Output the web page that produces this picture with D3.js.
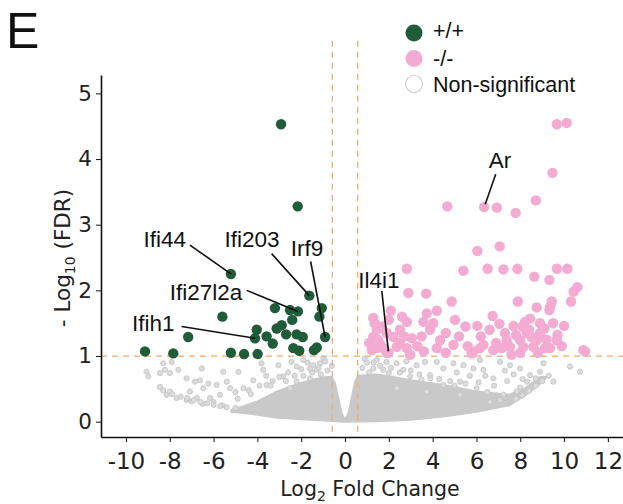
<!DOCTYPE html>
<html><head><meta charset="utf-8">
<script src="https://cdn.jsdelivr.net/npm/d3@7"></script>
<style>body{margin:0;background:#fff}svg{display:block}</style>
</head><body>
<svg id="chart" width="623" height="504"></svg>
<script>
// ---------- data ----------
const xTicks = [-10,-8,-6,-4,-2,0,2,4,6,8,10,12];
const yTicks = [0,1,2,3,4,5];
const fcCut = [-0.58, 0.58];   // log2 fold-change thresholds
const fdrCut = 1;              // -log10 FDR threshold
const legendItems = ["+/+", "-/-", "Non-significant"];

// +/+ significant genes [log2FC, -log10 FDR]
const greenPts = [[-2.92,4.53],[-2.16,3.28],[-5.21,2.25],[-1.63,1.92],[-5.60,1.60],[-3.20,1.73],[-2.51,1.70],[-2.15,1.68],
[-2.41,1.55],[-1.06,1.73],[-1.17,1.60],[-0.91,1.29],[-2.89,1.47],[-3.12,1.42],[-4.03,1.40],[-4.11,1.27],[-3.58,1.30],
[-3.30,1.19],[-2.69,1.33],[-2.21,1.33],[-1.93,1.29],[-2.36,1.12],[-2.09,1.08],[-1.42,1.09],[-1.29,1.13],[-7.16,1.29],
[-9.13,1.07],[-7.84,1.04],[-5.21,1.05],[-4.61,1.03],[-3.99,1.03]];

// -/- significant genes
const pinkPts = [[9.67,4.53],[10.12,4.55],[9.47,3.79],[4.67,3.28],[6.35,3.27],[6.93,3.26],[7.79,3.18],[8.71,3.37],
[6.04,2.60],[7.06,2.67],[2.82,2.33],[5.40,2.30],[6.51,2.33],[7.23,2.32],[7.87,2.33],[8.64,2.21],[9.33,2.16],[9.67,2.33],[10.15,2.33],
[10.61,2.05],[10.43,1.98],[10.32,1.83],[2.89,1.96],[3.70,1.95],[4.87,1.83],[7.89,1.83],[9.44,1.83],
[2.09,1.69],[1.29,1.58],[3.73,1.65],[4.19,1.69],[8.75,1.74],[9.36,1.75],[5.02,1.55],[6.74,1.61],[2.82,1.52],[9.33,1.70],
[6.04,1.46],[7.05,1.49],[7.69,1.46],[8.45,1.57],[8.22,1.52],[10.0,1.46],[9.70,1.32],[3.58,1.52],[3.88,1.40],[4.03,1.50],
[1.29,1.29],[1.45,1.40],[1.68,1.45],[1.90,1.35],[2.21,1.29],[2.51,1.40],[3.05,1.27],[4.34,1.24],[4.95,1.17],
[1.22,1.09],[1.75,1.12],[2.36,1.14],[2.82,1.12],[2.97,1.02],[4.19,1.12],[5.86,1.07],[6.32,1.17],[6.77,1.09],[7.16,1.12],[7.38,1.24],[7.53,1.14],
[7.99,1.24],[8.14,1.14],[8.30,1.35],[8.52,1.29],[8.75,1.24],[8.90,1.35],[8.60,1.14],[9.13,1.12],[9.36,1.12],[9.67,1.24],[10.96,1.07],
[5.78,1.04],[6.16,1.12],[10.88,1.09],[1.45,1.12],[1.98,1.05],
[1.1,1.2],[1.5,1.25],[1.9,1.05],[2.5,1.2],[3.3,1.15],[3.5,1.3],[4.6,1.35],[5.2,1.3],[5.5,1.45],[6.2,1.3],[6.6,1.4],[7.3,1.35],
[7.8,1.32],[8.1,1.45],[8.4,1.4],[8.9,1.5],[9.1,1.42],[9.5,1.5],[9.2,1.25],[5.6,1.15],[4.6,1.05],[3.6,1.07],[1.35,1.5],[2.0,1.55],
[2.6,1.6],[8.0,1.05],[8.8,1.05],[7.6,1.02],[6.9,1.2],[9.9,1.15],[1.6,1.18],[2.7,1.3]];

// non-significant genes: outline of the dense core + individually visible genes
const greyCore = [[-5.2,0.18],[-4.6,0.24],[-4.0,0.31],[-3.1,0.46],[-2.3,0.56],[-1.6,0.63],[-0.9,0.68],[-0.6,0.68],[-0.45,0.58],
[-0.3,0.35],[-0.15,0.12],[0,0.03],[0.15,0.12],[0.3,0.35],[0.45,0.60],[0.6,0.70],[1.45,0.72],[2.2,0.68],[3.0,0.63],[4.5,0.56],
[6.0,0.46],[7.5,0.41],[8.2,0.50],[8.9,0.68],[9.2,0.68],
[9.0,0.60],[8.3,0.42],[7.5,0.25],[6.0,0.15],[4.5,0.08],[3.0,0.03],[1.5,0.005],[0,0],[-1.6,0.03],[-3.1,0.06],[-4.3,0.12],[-5.2,0.15]];
const greyPts = [[-8.30,0.89],[-7.91,0.91],[-8.22,0.79],[-9.06,0.76],[-8.45,0.74],[-7.99,0.74],[-7.61,0.79],[-8.98,0.69],
[-7.23,0.66],[-6.85,0.61],[-6.62,0.63],[-6.24,0.58],[-5.86,0.56],[-6.54,0.81],[-5.56,0.76],[-4.87,0.76],[-4.19,0.63],
[-3.73,0.79],[-3.81,0.89],[-3.04,0.86],[-2.44,0.91],[-2.21,0.84],[-2.82,0.69],[-3.58,0.56],[-4.64,0.51],[-5.25,0.51],
[-5.71,0.41],[-6.16,0.36],[-6.77,0.36],[-7.23,0.33],[-7.69,0.36],[-8.14,0.41],[-8.45,0.53],[-7.99,0.46],[-7.08,0.46],
[-6.47,0.51],[-1.90,0.94],[-1.60,0.81],[-1.29,0.79],[-0.99,0.96],[-1.14,0.89],[-1.45,0.86],[-1.60,0.66],[-2.21,0.61],
[-2.51,0.51],[-5.40,0.61],[-6.0,0.30],[-6.5,0.27],[-5.6,0.25],[-7.0,0.31],[-4.9,0.35],[-4.3,0.42],[-3.4,0.55],[-2.7,0.62],
[-1.9,0.70],[-1.1,0.72],
[-8.3,0.48],[-7.9,0.42],[-7.5,0.38],[-7.2,0.36],[-6.9,0.33],[-6.6,0.30],[-6.3,0.28],[-6.0,0.26],[-5.7,0.24],[-5.4,0.22],[-5.0,0.21],
[-0.8,0.78],[-0.6,0.85],[-1.2,0.82],[-1.5,0.75],[-2.0,0.80],[-2.6,0.75],[-3.0,0.68],[-3.3,0.62],[-3.9,0.55],[-4.4,0.48],
[-5.0,0.45],[-0.9,0.92],[-1.7,0.90],[-2.3,0.70],[-3.6,0.70],
[1.45,0.94],[1.90,0.91],[2.36,0.89],[1.29,0.81],[1.75,0.79],[2.66,0.79],[3.27,0.86],[3.65,0.91],[4.19,0.91],[4.49,0.81],
[4.95,0.89],[5.40,0.86],[5.86,0.81],[6.32,0.79],[7.08,0.91],[7.53,0.86],[7.99,0.81],[8.45,0.71],[9.06,0.89],[9.51,0.61],
[10.27,0.84],[10.73,0.76],[6.77,0.66],[5.25,0.61],[3.88,0.71],[2.97,0.69],[4.49,0.56],[6.01,0.51],[7.23,0.41],[7.84,0.46],
[8.30,0.61],[8.90,0.76],[7.08,0.33],[6.62,0.30],[5.25,0.41],[3.73,0.46],[2.36,0.51],[6.16,0.94],[1.1,0.75],[2.0,0.74],
[3.5,0.64],[5.0,0.55],[6.5,0.45],[8.0,0.52],[8.7,0.66],
[7.8,0.35],[8.1,0.40],[8.4,0.47],[8.7,0.55],[9.0,0.62],[9.3,0.70],
[0.8,0.82],[1.0,0.90],[1.3,0.90],[1.6,0.85],[2.1,0.82],[2.5,0.75],[3.0,0.78],[3.4,0.72],[3.9,0.66],[4.3,0.65],[4.8,0.62],
[5.5,0.58],[6.1,0.60],[6.8,0.55],[7.4,0.62],[7.7,0.72],[8.1,0.65],[0.9,0.96],[2.8,0.92],[5.1,0.75],[5.7,0.70],[6.4,0.70],[7.3,0.78]];

// labelled genes: point, label centre, leader start
const annotations = [
  {gene:"Ifi44",    pt:[-5.21,2.25], lab:[-8.23,2.79], from:[-7.08,2.69]},
  {gene:"Ifi203",   pt:[-1.63,1.92], lab:[-4.25,2.78], from:[-3.35,2.56]},
  {gene:"Irf9",     pt:[-0.91,1.29], lab:[-1.74,2.64], from:[-1.57,2.44]},
  {gene:"Ifi27l2a", pt:[-2.15,1.68], lab:[-6.35,1.98], from:[-4.49,2.00]},
  {gene:"Ifih1",    pt:[-4.11,1.27], lab:[-8.75,1.50], from:[-7.46,1.45]},
  {gene:"Ar",       pt:[6.40,3.31],  lab:[7.08,3.98],  from:[6.88,3.77]},
  {gene:"Il4i1",    pt:[1.98,1.07],  lab:[1.55,2.16],  from:[1.68,1.99]}
];
const refLineTop = 5.8;

// ---------- drawing ----------
const GREEN = "#1f5d3a", PINK = "#f3abd1", ORANGE = "#eeac6a";
const svg = d3.select("#chart");
const x = d3.scaleLinear().domain([-11.14, 12.69]).range([101, 623]);
const y = d3.scaleLinear().domain([-0.233, 5.28]).range([437, 75]);

// grey core
svg.append("path").datum(greyCore)
  .attr("d", d3.line().x(d=>x(d[0])).y(d=>y(d[1])).curve(d3.curveLinearClosed))
  .attr("fill", "#c9c9c9").attr("stroke", "#c9c9c9").attr("stroke-width", 2).attr("stroke-linejoin", "round");
svg.append("g").selectAll("circle").data(greyPts).join("circle")
  .attr("cx", d=>x(d[0])).attr("cy", d=>y(d[1])).attr("r", 2.6)
  .attr("fill", "#dcdcdc").attr("stroke", "#c2c2c2").attr("stroke-width", 0.8);

// threshold lines
const dash = "6,5";
svg.append("line").attr("x1", x.range()[0]).attr("x2", x.range()[1])
  .attr("y1", y(fdrCut)).attr("y2", y(fdrCut))
  .attr("stroke", ORANGE).attr("stroke-width", 1.3).attr("stroke-dasharray", dash);
svg.append("g").selectAll("line").data(fcCut).join("line")
  .attr("x1", d=>x(d)).attr("x2", d=>x(d))
  .attr("y1", y(refLineTop)).attr("y2", y.range()[0])
  .attr("stroke", ORANGE).attr("stroke-width", 1.3).attr("stroke-dasharray", dash);

// significant points
svg.append("g").selectAll("circle").data(pinkPts).join("circle")
  .attr("cx", d=>x(d[0])).attr("cy", d=>y(d[1])).attr("r", 5.2).attr("fill", PINK);
svg.append("g").selectAll("circle").data(greenPts).join("circle")
  .attr("cx", d=>x(d[0])).attr("cy", d=>y(d[1])).attr("r", 5.2).attr("fill", GREEN);

// annotations
const ann = svg.append("g");
ann.selectAll("line").data(annotations).join("line")
  .attr("x1", d=>x(d.from[0])).attr("y1", d=>y(d.from[1]))
  .attr("x2", d=>x(d.pt[0])).attr("y2", d=>y(d.pt[1]))
  .attr("stroke", "#111").attr("stroke-width", 1.6);
ann.selectAll("text").data(annotations).join("text")
  .attr("x", d=>x(d.lab[0])).attr("y", d=>y(d.lab[1])).attr("dy", "0.36em")
  .attr("text-anchor", "middle")
  .style("font-family", "'Liberation Sans', Arial, sans-serif").style("font-size", "22.5px")
  .attr("fill", "#111").text(d=>d.gene);

// axes
const xAxis = svg.append("g").attr("transform", `translate(0,${y.range()[0]})`)
  .call(d3.axisBottom(x).tickValues(xTicks).tickSize(5).tickSizeOuter(0).tickPadding(11).tickFormat(d3.format("d")));
const yAxis = svg.append("g").attr("transform", `translate(${x.range()[0]},0)`)
  .call(d3.axisLeft(y).tickValues(yTicks).tickSize(5).tickSizeOuter(0).tickPadding(4).tickFormat(d3.format("d")));
[xAxis, yAxis].forEach(g => {
  g.select(".domain").attr("stroke", "#111").attr("stroke-width", 1.6);
  g.selectAll(".tick line").attr("stroke", "#111").attr("stroke-width", 1);
  g.selectAll("text").attr("fill", "#222").style("font-family", "'DejaVu Sans', sans-serif");
});
xAxis.selectAll("text").style("font-size", "23px").text(d => d < 0 ? "-" + Math.abs(d) : d);
yAxis.selectAll("text").style("font-size", "21.5px");

// axis titles
const xt = svg.append("text").attr("x", 370).attr("y", 496).attr("text-anchor", "middle")
  .style("font-family", "'DejaVu Sans', sans-serif").style("font-size", "20.5px").attr("fill", "#222");
xt.append("tspan").text("Log");
xt.append("tspan").attr("dy", 5).style("font-size", "14px").text("2");
xt.append("tspan").attr("dy", -5).text(" Fold Change");

const yt = svg.append("text").attr("transform", "translate(70,258) rotate(-90)").attr("text-anchor", "middle")
  .style("font-family", "'DejaVu Sans', sans-serif").style("font-size", "21.5px").attr("fill", "#222");
yt.append("tspan").text("- Log");
yt.append("tspan").attr("dy", 5).style("font-size", "14px").text("10");
yt.append("tspan").attr("dy", -5).text(" (FDR)");

// panel letter
svg.append("text").attr("x", 6).attr("y", 48).text("E")
  .style("font-family", "'Liberation Sans', Arial, sans-serif").style("font-size", "50px").attr("fill", "#111");

// legend
const legColors = [GREEN, PINK, "#fff"];
const leg = svg.append("g").selectAll("g").data(legendItems).join("g")
  .attr("transform", (d,i) => `translate(414,${[33,58.5,84][i]})`);
leg.append("circle").attr("r", 8.5).attr("fill", (d,i)=>legColors[i])
  .attr("stroke", (d,i)=> i===2 ? "#d0d0d0" : "none").attr("stroke-width", 1.2);
leg.append("text").attr("x", 19).attr("y", (d,i)=> i===0 ? -3 : 0).attr("dy", "0.36em")
  .style("font-family", "'Liberation Sans', Arial, sans-serif").style("font-size", "21.5px")
  .attr("fill", "#111").text(d=>d);
</script>
</body></html>
